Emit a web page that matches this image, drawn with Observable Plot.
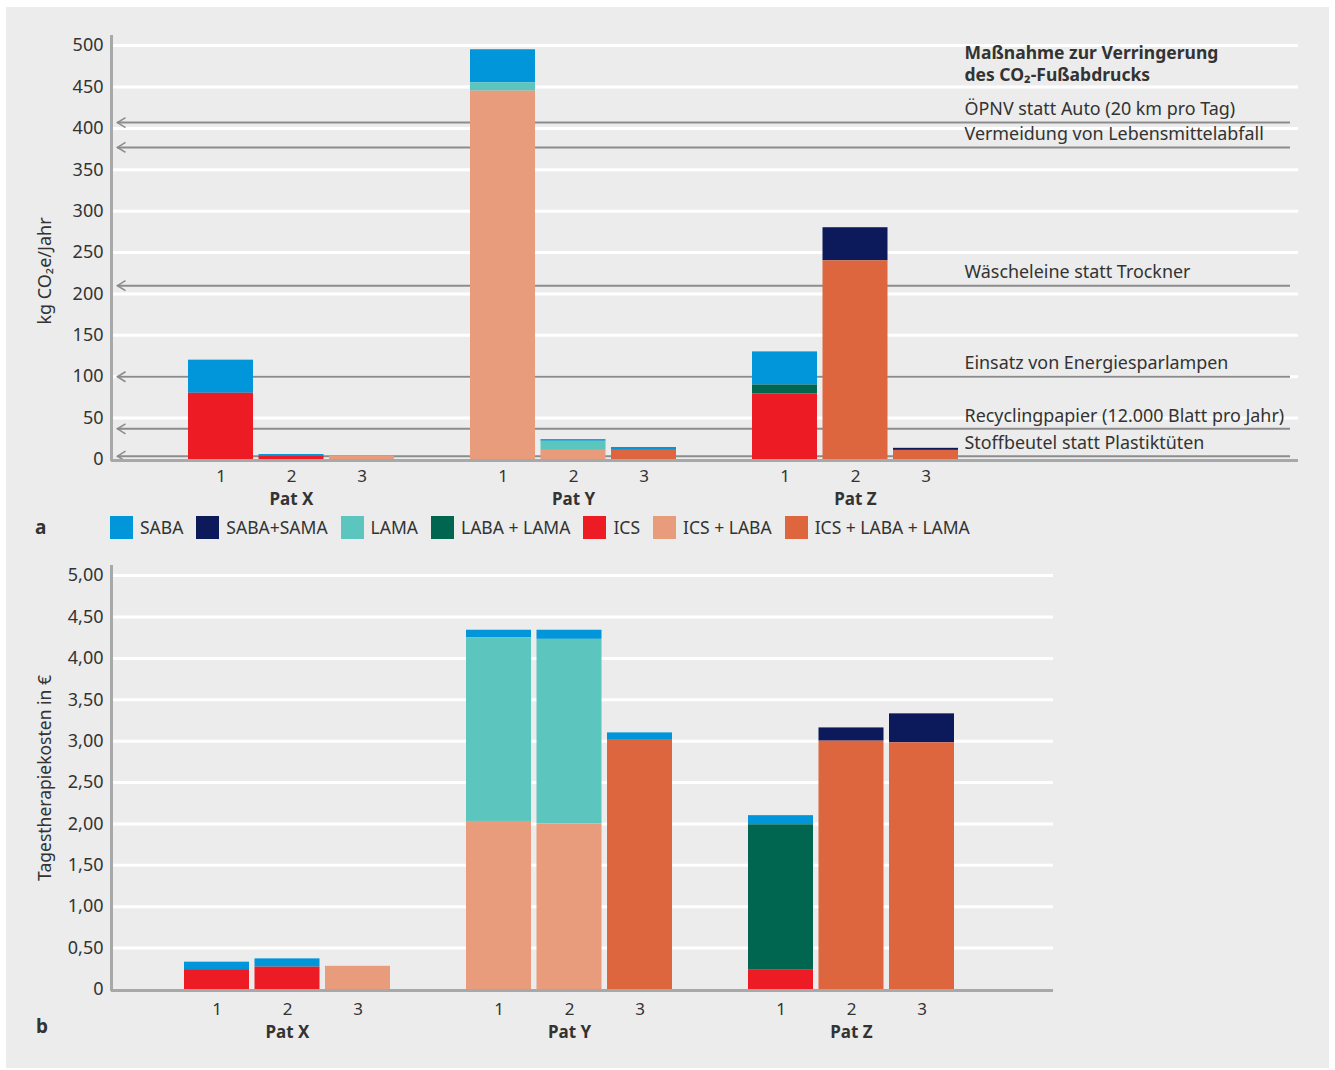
<!DOCTYPE html>
<html><head><meta charset="utf-8">
<script src="https://cdn.jsdelivr.net/npm/d3@7"></script>
<script src="https://cdn.jsdelivr.net/npm/@observablehq/plot@0.6"></script>
<style>
body{margin:0;background:#fff;font-family:"Noto Sans",sans-serif;}
#wrap{position:relative;width:1335px;height:1070px;}
#bg{position:absolute;left:6px;top:7px;width:1323px;height:1061px;background:#ebeceb;}
.panel{position:absolute;left:0;}
#legend{position:absolute;left:110px;top:515px;display:flex;align-items:center;font-size:17.5px;color:#333;}
.item{display:flex;align-items:center;margin-right:13px;white-space:pre;}
.sw{width:23px;height:23px;margin-right:7px;}
.tag{position:absolute;font-weight:bold;font-size:19px;color:#333;}
</style></head><body>
<div id="wrap"><div id="bg"></div><div id="pa" class="panel" style="top:0"></div><div id="legend"></div><div id="pb" class="panel" style="top:550px"></div><div class="tag" style="left:35px;top:514px">a</div><div class="tag" style="left:36px;top:1013px">b</div></div>
<script>
const series = ["SABA","SABA+SAMA","LAMA","LABA + LAMA","ICS","ICS + LABA","ICS + LABA + LAMA"];
const seriesColors = ["#0096d9","#0c1a5b","#5cc5be","#00664f","#ed1c24","#e89c7b","#dd663f"];
const stackOrder = ["ICS","ICS + LABA","ICS + LABA + LAMA","LABA + LAMA","LAMA","SABA+SAMA","SABA"];
const patients = ["Pat X","Pat Y","Pat Z"];
const variants = ["1","2","3"];

// a: kg CO2e/Jahr — bars in order X1,X2,X3,Y1,Y2,Y3,Z1,Z2,Z3
const co2SABA          = [40, 2.4, 0, 40, 2, 3.5, 40, 0, 0];
const co2SABA_SAMA     = [0, 0, 0, 0, 0, 0, 0, 40, 2.5];
const co2LAMA          = [0, 0, 0, 10, 11, 0, 0, 0, 0];
const co2LABA_LAMA     = [0, 0, 0, 0, 0, 0, 11, 0, 0];
const co2ICS           = [80, 3.6, 0, 0, 0, 0, 79, 0, 0];
const co2ICS_LABA      = [0, 0, 4, 445, 11, 0, 0, 0, 0];
const co2ICS_LABA_LAMA = [0, 0, 0, 0, 0, 11, 0, 240, 11];

// b: Tagestherapiekosten in €
const costSABA          = [0.09, 0.10, 0, 0.09, 0.11, 0.08, 0.11, 0, 0];
const costSABA_SAMA     = [0, 0, 0, 0, 0, 0, 0, 0.16, 0.35];
const costLAMA          = [0, 0, 0, 2.22, 2.23, 0, 0, 0, 0];
const costLABA_LAMA     = [0, 0, 0, 0, 0, 0, 1.75, 0, 0];
const costICS           = [0.24, 0.27, 0, 0, 0, 0, 0.24, 0, 0];
const costICS_LABA      = [0, 0, 0.28, 2.03, 2.00, 0, 0, 0, 0];
const costICS_LABA_LAMA = [0, 0, 0, 0, 0, 3.02, 0, 3.00, 2.98];

const measures = ["ÖPNV statt Auto (20 km pro Tag)","Vermeidung von Lebensmittelabfall","Wäscheleine statt Trockner","Einsatz von Energiesparlampen","Recyclingpapier (12.000 Blatt pro Jahr)","Stoffbeutel statt Plastiktüten"];
const measureCO2 = [407, 377, 210, 100, 37, 4];
const measureTitle = "Maßnahme zur Verringerung\ndes CO₂-Fußabdrucks";

const co2Ticks = [0,50,100,150,200,250,300,350,400,450,500];
const costTicks = [0,0.5,1,1.5,2,2.5,3,3.5,4,4.5,5];
const yLabelA = "kg CO₂e/Jahr";
const yLabelB = "Tagestherapiekosten in €";

const co2Values = [co2SABA, co2SABA_SAMA, co2LAMA, co2LABA_LAMA, co2ICS, co2ICS_LABA, co2ICS_LABA_LAMA];
const costValues = [costSABA, costSABA_SAMA, costLAMA, costLABA_LAMA, costICS, costICS_LABA, costICS_LABA_LAMA];

const bars = patients.flatMap(p => variants.map(v => p + "|" + v));
const xDomain = patients.flatMap((p, i) => [...variants.map(v => p + "|" + v), ...(i < patients.length - 1 ? ["gap" + i] : [])]);
const toRows = vals => series.flatMap((s, si) => bars.map((b, bi) => ({bar: b, series: s, value: vals[si][bi]}))).filter(d => d.value > 0);
const rowsA = toRows(co2Values);
const rowsB = toRows(costValues);
const measureRows = measures.map((m, i) => ({label: m, value: measureCO2[i]}));

const chevron = {draw(ctx, size) { const r = Math.sqrt(size / Math.PI); ctx.moveTo(r * 1.6, -r); ctx.lineTo(0, 0); ctx.lineTo(r * 1.6, r); }};
const txt = "#333";
const baseStyle = {background: "transparent", fontFamily: "Noto Sans", fontSize: "18px", color: txt, overflow: "visible"};
const grey = "#a7a8aa";

const plotA = Plot.plot({
  width: 1335, height: 510, marginTop: 36, marginBottom: 51, marginLeft: 111, marginRight: 37,
  style: baseStyle,
  x: {domain: xDomain, range: [188, 958], paddingInner: 0.078, paddingOuter: 0, round: false, label: null, axis: null},
  y: {domain: [0, 511], label: null, axis: null},
  color: {domain: series, range: seriesColors},
  marks: [
    Plot.ruleY(co2Ticks.filter(d => d > 0), {stroke: "white", strokeWidth: 3, insetLeft: 2}),
    Plot.ruleY(measureRows, {y: "value", stroke: "#8c8c8c", strokeWidth: 2, insetLeft: 6, insetRight: 8}),
    Plot.dot(measureRows, {y: "value", frameAnchor: "left", dx: 6, symbol: chevron, r: 5, stroke: "#8c8c8c", strokeWidth: 1.6, fill: "none"}),
    Plot.text(measureRows, {y: "value", text: "label", frameAnchor: "left", dx: 853, dy: -13, textAnchor: "start", fontSize: 17.9, fill: txt}),
    Plot.text([measureTitle], {frameAnchor: "top-left", dx: 853, dy: 7, lineAnchor: "top", textAnchor: "start", fontSize: 17.5, fontWeight: "bold", lineHeight: 1.25, fill: txt}),
    Plot.barY(rowsA, {x: "bar", y: "value", fill: "series", order: stackOrder}),
    Plot.ruleY([0], {stroke: grey, strokeWidth: 3, dy: 1}),
    Plot.frame({anchor: "left", stroke: grey, strokeWidth: 3}),
    Plot.axisY({ticks: co2Ticks, tickSize: 0, tickPadding: 8, fontSize: 18, label: null}),
    Plot.axisX({ticks: bars, tickFormat: k => k.split("|")[1], tickSize: 0, tickPadding: 10, fontSize: 17, label: null}),
    Plot.text(patients, {x: p => p + "|2", text: d => d, frameAnchor: "bottom", dy: 45, fontWeight: "bold", fontSize: 17, fill: txt}),
    Plot.text([yLabelA], {frameAnchor: "left", textAnchor: "middle", rotate: -90, dx: -66, dy: 23, fontSize: 18, fill: txt})
  ]
});
document.getElementById("pa").append(plotA);

const fmt = d => d === 0 ? "0" : d.toFixed(2).replace(".", ",");
const plotB = Plot.plot({
  width: 1335, height: 500, marginTop: 16, marginBottom: 61, marginLeft: 111, marginRight: 282,
  style: baseStyle,
  x: {domain: xDomain, range: [184, 954], paddingInner: 0.078, paddingOuter: 0, round: false, label: null, axis: null},
  y: {domain: [0, 5.11], label: null, axis: null},
  color: {domain: series, range: seriesColors},
  marks: [
    Plot.ruleY(costTicks.filter(d => d > 0), {stroke: "white", strokeWidth: 3, insetLeft: 2}),
    Plot.barY(rowsB, {x: "bar", y: "value", fill: "series", order: stackOrder}),
    Plot.ruleY([0], {stroke: grey, strokeWidth: 3, dy: 1}),
    Plot.frame({anchor: "left", stroke: grey, strokeWidth: 3}),
    Plot.axisY({ticks: costTicks, tickFormat: fmt, tickSize: 0, tickPadding: 8, fontSize: 18, label: null}),
    Plot.axisX({ticks: bars, tickFormat: k => k.split("|")[1], tickSize: 0, tickPadding: 13, fontSize: 17, label: null}),
    Plot.text(patients, {x: p => p + "|2", text: d => d, frameAnchor: "bottom", dy: 48, fontWeight: "bold", fontSize: 17, fill: txt}),
    Plot.text([yLabelB], {frameAnchor: "left", textAnchor: "middle", rotate: -90, dx: -66, dy: 0, fontSize: 17.5, fill: txt})
  ]
});
document.getElementById("pb").append(plotB);

const legend = document.getElementById("legend");
series.forEach((s, i) => {
  const it = document.createElement("div"); it.className = "item";
  const sw = document.createElement("div"); sw.className = "sw"; sw.style.background = seriesColors[i];
  const lb = document.createElement("span"); lb.textContent = s;
  it.append(sw, lb); legend.append(it);
});
</script>
</body></html>
